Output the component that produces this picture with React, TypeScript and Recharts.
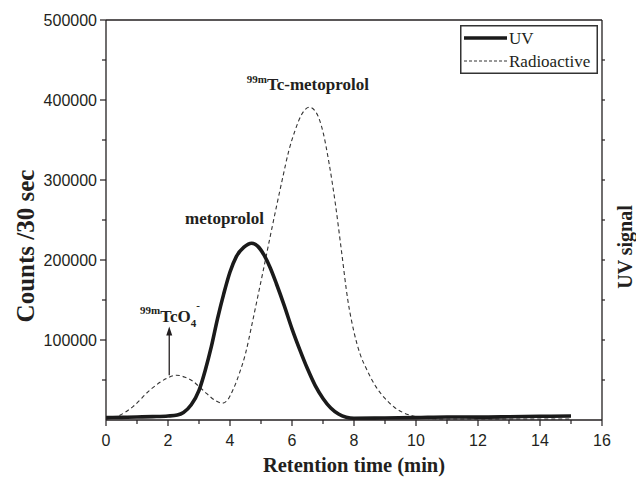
import React from 'react';
import { LineChart, Line, XAxis, YAxis, ReferenceDot, ReferenceLine, Legend } from 'recharts';

// ---- data ----
const uvTime = [0, 0.5, 1, 1.5, 2, 2.3, 2.5, 2.75, 3, 3.2, 3.4, 3.6, 3.8, 4, 4.2, 4.45, 4.7, 4.9, 5.1, 5.3, 5.5, 5.75, 6, 6.25, 6.5, 6.75, 7, 7.25, 7.5, 7.75, 8, 9, 10, 11, 12, 13, 14, 15];
const uvSignal = [3000, 3300, 3700, 4200, 5000, 6300, 9500, 19000, 37000, 62000, 92000, 127000, 158000, 185000, 204000, 216000, 221000, 217000, 206000, 190000, 170000, 143000, 114000, 88000, 64000, 43000, 27000, 15000, 7500, 3500, 2200, 2500, 3000, 3800, 3600, 4000, 4600, 5000];

const radioTime = [0, 0.45, 0.87, 1.42, 1.96, 2.27, 2.55, 2.82, 3.05, 3.25, 3.5, 3.75, 3.9, 4.1, 4.3, 4.5, 4.7, 4.9, 5.1, 5.3, 5.5, 5.7, 5.9, 6.1, 6.3, 6.56, 6.8, 7, 7.2, 7.4, 7.6, 7.8, 8, 8.2, 8.4, 8.7, 9, 9.3, 9.6, 9.9, 10.2, 10.6, 11, 12, 13, 14, 15];
const radioCounts = [1000, 6000, 16700, 37500, 52000, 56000, 53500, 48000, 40000, 33000, 25000, 21000, 24000, 38000, 58000, 83000, 118000, 155000, 192000, 230000, 267000, 303000, 337000, 362000, 381000, 391000, 383000, 360000, 320000, 270000, 210000, 150000, 110000, 82000, 64000, 42000, 27000, 16000, 9000, 5000, 2500, 1500, 1200, 1200, 1200, 1200, 1200];

const xTicks = [0, 1, 2, 3, 4, 5, 6, 7, 8, 9, 10, 11, 12, 13, 14, 15, 16];
const yTicks = [0, 50000, 100000, 150000, 200000, 250000, 300000, 350000, 400000, 450000, 500000];
const rightTicks = [50000, 100000, 150000, 200000, 250000, 300000, 350000, 400000, 450000];

const seriesNames = ['UV', 'Radioactive'];
const xLabel = 'Retention time (min)';
const yLabel = 'Counts /30 sec';
const rightLabel = 'UV signal';

// annotations: [time, value]
const tcMetoprololAt = [4.54, 413000];
const metoprololAt = [2.55, 245000];
const tco4At = [1.1, 122900];
const arrowFrom = [2.04, 56000];
const arrowTo = [2.04, 117000];

const uvData = uvTime.map((t, i) => ({ t, v: uvSignal[i] }));
const radioData = radioTime.map((t, i) => ({ t, v: radioCounts[i] }));

const INK = '#231f20';
const SANS = '"Liberation Sans", Arial, sans-serif';
const SERIF = '"Liberation Serif", "Times New Roman", serif';

const XTick = (props: any) => {
  const { x, y, payload } = props;
  const major = payload.value % 2 === 0;
  return (
    <g>
      <line x1={x} x2={x} y1={y} y2={y + (major ? 6 : 4)} stroke={INK} strokeWidth={1.2} />
      {major && (
        <text x={x} y={y + 26} textAnchor="middle" fontFamily={SANS} fontSize={16} fill={INK}>
          {payload.value}
        </text>
      )}
    </g>
  );
};

const YTick = (props: any) => {
  const { x, y, payload } = props;
  const major = payload.value % 100000 === 0;
  return (
    <g>
      {payload.value !== 0 && <line x1={x} x2={x - (major ? 6 : 4)} y1={y} y2={y} stroke={INK} strokeWidth={1.2} />}
      {major && payload.value !== 0 && (
        <text x={x - 9} y={y + 6} textAnchor="end" fontFamily={SANS} fontSize={16} fill={INK}>
          {payload.value}
        </text>
      )}
    </g>
  );
};

const RTick = (props: any) => {
  const { x, y } = props;
  return <line x1={x} x2={x + 3} y1={y} y2={y} stroke={INK} strokeWidth={1.2} />;
};

const LegendBox = () => (
  <svg width={138} height={49} style={{ display: 'block' }}>
    <rect x={0.75} y={0.75} width={136.5} height={47.5} fill="#fff" stroke="#333" strokeWidth={1.5} />
    <line x1={4} x2={47} y1={13} y2={13} stroke="#1a1a1a" strokeWidth={3.6} />
    <text x={49} y={19} fontFamily={SERIF} fontSize={17} fill={INK}>{seriesNames[0]}</text>
    <line x1={4} x2={47} y1={36} y2={36} stroke="#333" strokeWidth={1.1} strokeDasharray="3 2" />
    <text x={49} y={42} fontFamily={SERIF} fontSize={17} fill={INK}>{seriesNames[1]}</text>
  </svg>
);

export default function App() {
  return (
    <div style={{ position: 'absolute', left: 0, top: 0, width: 636, height: 479, background: '#fff' }}>
      <LineChart width={636} height={479} margin={{ top: 20, right: 0, bottom: 0, left: 0 }}>
        <XAxis
          dataKey="t"
          type="number"
          domain={[0, 16]}
          ticks={xTicks}
          interval={0}
          height={59}
          tickSize={0}
          tickMargin={0}
          tickLine={false}
          tick={<XTick />}
          axisLine={{ stroke: INK, strokeWidth: 1.3 }}
          allowDataOverflow
          label={(p: any) => {
            const vb = p.viewBox;
            return (
              <text x={vb.x + vb.width / 2} y={472} textAnchor="middle" fontFamily={SERIF} fontWeight="bold" fontSize={20.5} fill={INK}>
                {xLabel}
              </text>
            );
          }}
        />
        <YAxis
          yAxisId="left"
          type="number"
          domain={[0, 500000]}
          ticks={yTicks}
          interval={0}
          width={106}
          tickSize={0}
          tickMargin={0}
          tickLine={false}
          tick={<YTick />}
          axisLine={{ stroke: INK, strokeWidth: 1.3 }}
          allowDataOverflow
          label={(p: any) => {
            const vb = p.viewBox;
            const cy = vb.y + vb.height / 2 + 26;
            return (
              <text x={34} y={cy} transform={`rotate(-90, 34, ${cy})`} textAnchor="middle" fontFamily={SERIF} fontWeight="bold" fontSize={25} fill={INK}>
                {yLabel}
              </text>
            );
          }}
        />
        <YAxis
          yAxisId="right"
          orientation="right"
          type="number"
          domain={[0, 500000]}
          ticks={rightTicks}
          interval={0}
          width={34}
          tickSize={0}
          tickMargin={0}
          tickLine={false}
          tick={<RTick />}
          axisLine={{ stroke: INK, strokeWidth: 1.3 }}
          allowDataOverflow
          label={(p: any) => {
            const vb = p.viewBox;
            const cy = vb.y + vb.height / 2 + 27;
            return (
              <text x={632} y={cy} transform={`rotate(-90, 632, ${cy})`} textAnchor="middle" fontFamily={SERIF} fontWeight="bold" fontSize={20} fill={INK}>
                {rightLabel}
              </text>
            );
          }}
        />
        <ReferenceLine yAxisId="left" y={500000} stroke={INK} strokeWidth={1.3} />
        <Line
          yAxisId="left"
          data={radioData}
          dataKey="v"
          name={seriesNames[1]}
          type="monotone"
          stroke="#333"
          strokeWidth={1.1}
          strokeDasharray="4 3"
          dot={false}
          activeDot={false}
          isAnimationActive={false}
        />
        <Line
          yAxisId="right"
          data={uvData}
          dataKey="v"
          name={seriesNames[0]}
          type="monotone"
          stroke="#1a1a1a"
          strokeWidth={3.6}
          dot={false}
          activeDot={false}
          isAnimationActive={false}
        />
        <ReferenceLine
          yAxisId="left"
          segment={[{ x: arrowFrom[0], y: arrowFrom[1] }, { x: arrowTo[0], y: arrowTo[1] }]}
          shape={(p: any) => (
            <g>
              <line x1={p.x1} y1={p.y1} x2={p.x2} y2={p.y2 + 6} stroke={INK} strokeWidth={1.3} />
              <polygon points={`${p.x2},${p.y2} ${p.x2 - 3},${p.y2 + 9} ${p.x2 + 3},${p.y2 + 9}`} fill={INK} />
            </g>
          )}
        />
        <ReferenceDot
          yAxisId="left"
          x={tcMetoprololAt[0]}
          y={tcMetoprololAt[1]}
          r={0}
          shape={(p: any) => (
            <text x={p.cx} y={p.cy} fontFamily={SERIF} fontWeight="bold" fill={INK}>
              <tspan fontSize={11} dy={-7}>99m</tspan>
              <tspan fontSize={17} dy={7}>Tc-metoprolol</tspan>
            </text>
          )}
        />
        <ReferenceDot
          yAxisId="left"
          x={metoprololAt[0]}
          y={metoprololAt[1]}
          r={0}
          shape={(p: any) => (
            <text x={p.cx} y={p.cy} fontFamily={SERIF} fontWeight="bold" fontSize={17} fill={INK}>
              metoprolol
            </text>
          )}
        />
        <ReferenceDot
          yAxisId="left"
          x={tco4At[0]}
          y={tco4At[1]}
          r={0}
          shape={(p: any) => (
            <text x={p.cx} y={p.cy} fontFamily={SERIF} fontWeight="bold" fill={INK}>
              <tspan fontSize={11} dy={-8}>99m</tspan>
              <tspan fontSize={17} dy={8}>TcO</tspan>
              <tspan fontSize={11} dy={5}>4</tspan>
              <tspan fontSize={11} dy={-18}>-</tspan>
            </text>
          )}
        />
        <Legend
          verticalAlign="middle"
          align="center"
          layout="horizontal"
          wrapperStyle={{ position: 'absolute', left: 460, top: 25, width: 138, height: 49, margin: 0, padding: 0 }}
          content={() => <LegendBox />}
        />
      </LineChart>
    </div>
  );
}
